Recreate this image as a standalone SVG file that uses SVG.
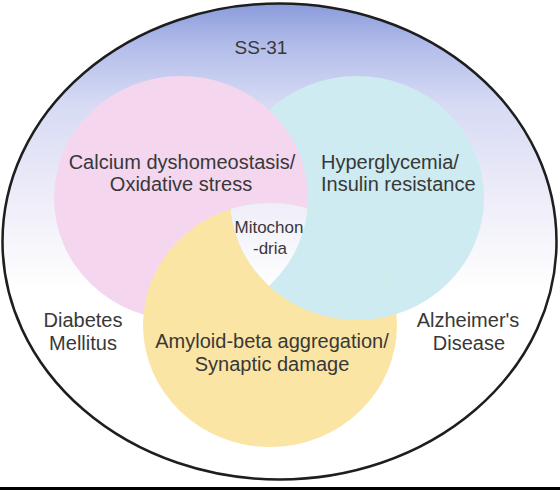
<svg xmlns="http://www.w3.org/2000/svg" width="560" height="490" viewBox="0 0 560 490">
<style>
  text { font-family: "Liberation Sans", Arial, sans-serif; fill: #383838; font-size: 20px; text-anchor: middle; }
  .small { font-size: 17px; }
  .pink { fill: #f4d6ef; }
  .cyan { fill: #cdebf0; }
  .yellow { fill: #fbe5a5; }
</style>
<defs>
  <linearGradient id="bg" gradientUnits="userSpaceOnUse" x1="0" y1="3" x2="0" y2="290">
    <stop offset="0" stop-color="#8a9bdb"/>
    <stop offset="0.15" stop-color="#b3bdea"/>
    <stop offset="0.35" stop-color="#d6daf4"/>
    <stop offset="0.65" stop-color="#ecebf8"/>
    <stop offset="1" stop-color="#ffffff"/>
  </linearGradient>
  <clipPath id="clipPink"><ellipse cx="181" cy="198" rx="127" ry="122"/></clipPath>
  <clipPath id="clipYellow"><ellipse cx="270" cy="325" rx="127" ry="122"/></clipPath>
</defs>
<rect x="0" y="0" width="560" height="490" fill="#ffffff"/>
<g id="ss31">
  <ellipse cx="279.5" cy="241.5" rx="277" ry="238" fill="url(#bg)" stroke="#1e1e1e" stroke-width="2.5"/>
  <text x="261" y="54" style="font-size:19px">SS-31</text>
</g>
<g id="hyperglycemia">
  <ellipse class="cyan" cx="357" cy="198" rx="127" ry="122"/>
</g>
<g id="calcium">
  <ellipse class="pink" cx="181" cy="198" rx="127" ry="122"/>
</g>
<g id="amyloid">
  <ellipse class="yellow" cx="270" cy="325" rx="127" ry="122"/>
</g>
<g id="overlap-cyan-yellow" clip-path="url(#clipYellow)">
  <ellipse class="cyan" cx="357" cy="198" rx="127" ry="122"/>
</g>
<g id="mitochondria">
  <g clip-path="url(#clipYellow)">
    <g clip-path="url(#clipPink)">
      <ellipse cx="357" cy="198" rx="127" ry="122" fill="url(#bg)"/>
    </g>
  </g>
  <text class="small" x="269" y="233">Mitochon</text>
  <text class="small" x="270" y="254">-dria</text>
</g>
<g id="labels">
  <text x="182" y="169">Calcium dyshomeostasis/</text>
  <text x="181" y="191">Oxidative stress</text>
  <text x="321" y="169" style="text-anchor:start">Hyperglycemia/</text>
  <text x="321" y="191" style="text-anchor:start">Insulin resistance</text>
  <text x="272" y="348">Amyloid-beta aggregation/</text>
  <text x="272" y="371">Synaptic damage</text>
</g>
<g id="diabetes">
  <text x="83" y="327">Diabetes</text>
  <text x="83" y="350">Mellitus</text>
</g>
<g id="alzheimers">
  <text x="468" y="327">Alzheimer's</text>
  <text x="469" y="350">Disease</text>
</g>
<rect x="0" y="487" width="560" height="3" fill="#000000"/>
</svg>
